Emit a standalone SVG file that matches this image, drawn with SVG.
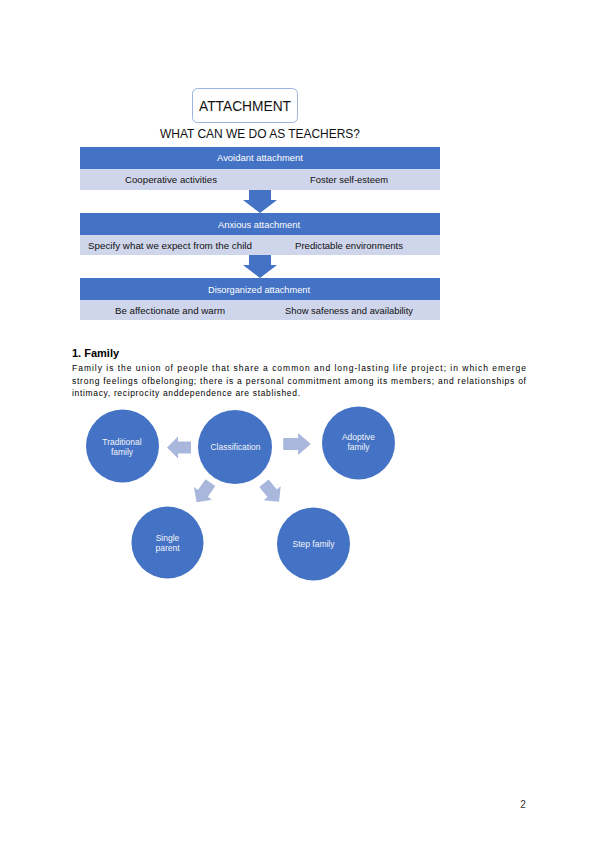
<svg xmlns="http://www.w3.org/2000/svg" xmlns:xlink="http://www.w3.org/1999/xlink" width="600" height="848" viewBox="0 0 600 848">
<style>
text{font-family:"Liberation Sans",Arial,sans-serif}
.hdr{fill:#4472C4}
.sub{fill:#CFD5EA}
.ht{fill:#ffffff;font-size:9px;text-anchor:middle}
.st{fill:#111111;font-size:9px;text-anchor:middle}
.circ{fill:#4472C4}
.ct{fill:#F2F4FA;font-size:8.5px;text-anchor:middle}
.para{fill:#000000;font-size:8.5px}
.larrow{fill:#A9B7DC}
.darrow{fill:#4472C4}
</style>
<defs>
<path id="blk" d="M-12,-6 H1 V-11 L12,0 L1,11 V6 H-12 Z"/>
</defs>
<rect width="600" height="848" fill="#ffffff"/>

<g id="title">
<rect x="192.5" y="88.5" width="105" height="34" rx="5" fill="#ffffff" stroke="#9DB3E0" stroke-width="1"/>
<text x="245" y="111" font-size="14" text-anchor="middle" fill="#111111" textLength="92" lengthAdjust="spacingAndGlyphs">ATTACHMENT</text>
</g>
<text id="subtitle" x="260" y="138" font-size="13.5" text-anchor="middle" fill="#111111" textLength="200" lengthAdjust="spacingAndGlyphs">WHAT CAN WE DO AS TEACHERS?</text>

<g id="avoidant">
<rect class="hdr" x="80" y="147" width="360" height="22"/>
<rect class="sub" x="80" y="169" width="360" height="21"/>
<text class="ht" x="260" y="161" textLength="86" lengthAdjust="spacingAndGlyphs">Avoidant attachment</text>
<text class="st" x="171" y="183" textLength="92" lengthAdjust="spacingAndGlyphs">Cooperative activities</text>
<text class="st" x="349" y="183" textLength="78" lengthAdjust="spacingAndGlyphs">Foster self-esteem</text>
</g>
<g id="anxious">
<rect class="hdr" x="80" y="213" width="360" height="22"/>
<rect class="sub" x="80" y="235" width="360" height="20"/>
<text class="ht" x="259" y="228" textLength="82" lengthAdjust="spacingAndGlyphs">Anxious attachment</text>
<text class="st" x="170" y="248.5" textLength="164" lengthAdjust="spacingAndGlyphs">Specify what we expect from the child</text>
<text class="st" x="349" y="248.5" textLength="108" lengthAdjust="spacingAndGlyphs">Predictable environments</text>
</g>
<g id="disorganized">
<rect class="hdr" x="80" y="278" width="360" height="22"/>
<rect class="sub" x="80" y="300" width="360" height="20"/>
<text class="ht" x="259" y="293" textLength="102" lengthAdjust="spacingAndGlyphs">Disorganized attachment</text>
<text class="st" x="170" y="314" textLength="110" lengthAdjust="spacingAndGlyphs">Be affectionate and warm</text>
<text class="st" x="349" y="314" textLength="128" lengthAdjust="spacingAndGlyphs">Show safeness and availability</text>
</g>

<g id="connectors">
<path class="darrow" d="M249,190 H271 V200 H277 L260,213 L243,200 H249 Z"/>
<path class="darrow" d="M249,255 H271 V265 H277 L260,278 L243,265 H249 Z"/>
<use xlink:href="#blk" href="#blk" class="larrow" transform="translate(179,447.5) rotate(180)"/>
<use xlink:href="#blk" href="#blk" class="larrow" transform="translate(297,444) scale(1.15,1)"/>
<use xlink:href="#blk" href="#blk" class="larrow" transform="translate(203.5,492.5) rotate(125)"/>
<use xlink:href="#blk" href="#blk" class="larrow" transform="translate(271.5,492.5) rotate(51)"/>
</g>

<text id="heading" x="72" y="357" font-size="11" font-weight="bold" fill="#000000">1. Family</text>
<g id="paragraph">
<text class="para" x="72" y="371" textLength="454" lengthAdjust="spacing">Family is the union of people that share a common and long-lasting life project; in which emerge</text>
<text class="para" x="72" y="383.5" textLength="454" lengthAdjust="spacing">strong feelings ofbelonging; there is a personal commitment among its members; and relationships of</text>
<text class="para" x="72" y="396" textLength="228" lengthAdjust="spacing">intimacy, reciprocity anddependence are stablished.</text>
</g>

<g id="traditional">
<circle class="circ" cx="122.5" cy="446" r="36.5"/>
<text class="ct" x="122" y="445">Traditional</text>
<text class="ct" x="122" y="455">family</text>
</g>
<g id="classification">
<circle class="circ" cx="235" cy="447" r="37"/>
<text class="ct" x="235.5" y="450">Classification</text>
</g>
<g id="adoptive">
<circle class="circ" cx="358.5" cy="443" r="36.5"/>
<text class="ct" x="358.5" y="440">Adoptive</text>
<text class="ct" x="358.5" y="450">family</text>
</g>
<g id="single">
<circle class="circ" cx="167.5" cy="542.5" r="36"/>
<text class="ct" x="167.5" y="541">Single</text>
<text class="ct" x="167.5" y="551">parent</text>
</g>
<g id="step">
<circle class="circ" cx="313.5" cy="544" r="36.5"/>
<text class="ct" x="313.5" y="546.5">Step family</text>
</g>

<text id="page" x="523" y="808" font-size="10" text-anchor="middle" fill="#333333">2</text>
</svg>
